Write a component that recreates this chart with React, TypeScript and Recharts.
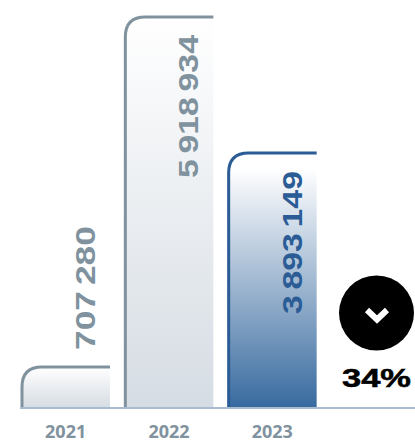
import { BarChart, Bar, XAxis, YAxis, LabelList } from "recharts"

const years = ["2021", "2022", "2023"]
const amounts = [707280, 5918934, 3893149]
const amountLabels = ["707 280", "5 918 934", "3 893 149"]
const changeLabel = "34%"

const chartData = years.map((year, i) => ({ year, amount: amounts[i], label: amountLabels[i] }))

const GREY = "#7f929e"
const BLUE = "#2b5c96"
const strokes = [GREY, GREY, BLUE]
const fills = ["url(#greyFill)", "url(#greyFill)", "url(#blueFill)"]
const labelLengths = [124, 143, 143]

function BarShape(props: any) {
  const { x, y, width, height, index } = props
  const r = 20
  const bottom = y + height
  const right = x + width
  return (
    <g>
      <path
        d={`M${x},${bottom} V${y + r} Q${x},${y} ${x + r},${y} H${right} V${bottom} Z`}
        fill={fills[index]}
      />
      <path
        d={`M${x},${bottom} V${y + r} Q${x},${y} ${x + r},${y} H${right}`}
        fill="none"
        stroke={strokes[index]}
        strokeWidth={3}
      />
    </g>
  )
}

function AmountLabel(props: any) {
  const { x, y, width, height, index } = props
  const cx = x + width / 2 + 19
  // short bars carry the number above them
  const anchorY = height < 160 ? y - 17 : y + 18
  const anchor = height < 160 ? "start" : "end"
  return (
    <text
      transform={`translate(${cx + 10},${anchorY}) rotate(-90)`}
      textAnchor={anchor}
      textLength={labelLengths[index]}
      lengthAdjust="spacingAndGlyphs"
      wordSpacing={-3}
      fontFamily="Liberation Sans"
      fontWeight={700}
      fontSize={27}
      fill={strokes[index]}
    >
      {amountLabels[index]}
    </text>
  )
}

export default function App() {
  return (
    <div style={{ position: "absolute", left: 0, top: 0, width: 415, height: 441 }}>
      <BarChart
        width={415}
        height={441}
        data={chartData}
        margin={{ top: 0, right: 0, bottom: 0, left: 20 }}
      >
        <defs>
          <linearGradient id="greyFill" x1="0" y1="0" x2="0" y2="1">
            <stop offset="0%" stopColor="#ffffff" />
            <stop offset="100%" stopColor="#d5dce3" />
          </linearGradient>
          <linearGradient id="blueFill" x1="0" y1="0" x2="0" y2="1">
            <stop offset="6%" stopColor="#ffffff" />
            <stop offset="100%" stopColor="#386a9f" />
          </linearGradient>
        </defs>
        <YAxis hide domain={[96790, 6171900]} allowDataOverflow />
        <XAxis
          dataKey="year"
          height={33}
          padding={{ left: -6, right: 91 }}
          axisLine={{ stroke: "#a9bccf", strokeWidth: 2 }}
          tickLine={false}
          tickMargin={11}
          interval={0}
          tick={{ fill: GREY, fontSize: 18, fontWeight: 700, fontFamily: "Open Sans" }}
        />
        <Bar dataKey="amount" barSize={88} shape={BarShape} isAnimationActive={false}>
          <LabelList dataKey="label" content={AmountLabel} />
        </Bar>
        <circle cx={376.5} cy={313} r={37.5} fill="#000000" />
        <path d="M367,310 L377,319.5 L387,310" fill="none" stroke="#ffffff" strokeWidth={6} />
        <text
          x={342}
          y={387}
          textLength={69}
          lengthAdjust="spacingAndGlyphs"
          fontFamily="Liberation Sans"
          fontWeight={700}
          fontSize={25}
          stroke="#000000"
          strokeWidth={0.5}
          fill="#000000"
        >
          {changeLabel}
        </text>
      </BarChart>
    </div>
  )
}
